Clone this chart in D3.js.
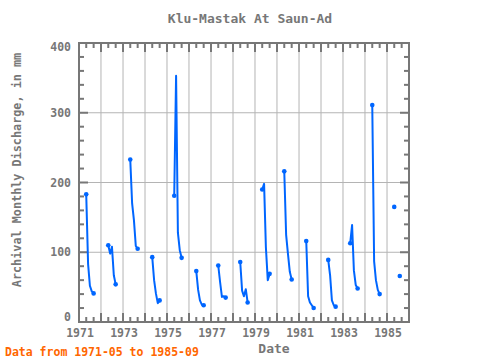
<!DOCTYPE html>
<html><head><meta charset="utf-8">
<script src="https://cdn.jsdelivr.net/npm/d3@7"></script>
<style>body{margin:0;background:#fff}svg{display:block}</style>
</head><body>
<script>
const years = [1971,1972,1973,1974,1975,1976,1977,1978,1979,1980,1981,1982,1983,1984,1985];
const months = [5,6,7,8,9];
const may = [183,110,233,93,181,73,81,86,190,216,116,89,113,311,165];
const jun = [83,98,170,60,353,46,57,45,198,125,37,67,139,87,null];
const jul = [52,108,146,41,128,31,36,37,107,98,28,31,74,60,null];
const aug = [44,67,109,27,103,25,37,47,60,72,24,24,53,46,66];
const sep = [41,54,105,31,92,24,35,28,69,61,20,22,48,40,null];
const yTicks = [0,100,200,300,400];
const xLabels = [1971,1973,1975,1977,1979,1981,1983,1985];

const W=480,H=360, L=79,R=409,T=43,B=322;
const gray="#777", grid="#b4b4b4", blue="#0066ff";
const svg=d3.select("body").append("svg").attr("width",W).attr("height",H);
const x=d3.scaleTime().domain([new Date(1971,0,1),new Date(1986,0,1)]).range([L,R]);
const y=d3.scaleLinear().domain([0,400]).range([B,T]);

// data table
const cols=[may,jun,jul,aug,sep];
const pts=[];
years.forEach((yr,i)=>{
  months.forEach((m,j)=>pts.push({d:new Date(yr,m-1,1),v:cols[j][i]}));
  pts.push({d:new Date(yr,11,1),v:null});
});

// grid
const g=svg.append("g");
d3.range(1972,1986).forEach(yr=>{
  g.append("line").attr("x1",x(new Date(yr,0,1))).attr("x2",x(new Date(yr,0,1)))
   .attr("y1",T).attr("y2",B).attr("stroke",grid).attr("stroke-width",1);
});
[100,200,300].forEach(v=>{
  g.append("line").attr("x1",L).attr("x2",R).attr("y1",y(v)).attr("y2",y(v))
   .attr("stroke",grid).attr("stroke-width",1);
});

// ticks
const tk=svg.append("g").attr("stroke",gray).attr("stroke-width",2);
d3.range(1971,1986).forEach(yr=>{
  [0,4,8].forEach(mo=>{
    const xx=x(new Date(yr,mo,1)); const len=mo===0?9:5;
    tk.append("line").attr("x1",xx).attr("x2",xx).attr("y1",T).attr("y2",T+len);
    tk.append("line").attr("x1",xx).attr("x2",xx).attr("y1",B).attr("y2",B-len);
  });
});
d3.range(0,401,20).forEach(v=>{
  const len=v%100===0?9:5;
  tk.append("line").attr("x1",L).attr("x2",L+len).attr("y1",y(v)).attr("y2",y(v));
  tk.append("line").attr("x1",R).attr("x2",R-len).attr("y1",y(v)).attr("y2",y(v));
});
// frame
svg.append("rect").attr("x",L).attr("y",T).attr("width",R-L).attr("height",B-T)
  .attr("fill","none").attr("stroke",gray).attr("stroke-width",2);

// line
const line=d3.line().defined(d=>d.v!=null).x(d=>x(d.d)).y(d=>y(d.v));
svg.append("path").datum(pts).attr("d",line).attr("fill","none")
  .attr("stroke",blue).attr("stroke-width",2).attr("stroke-linejoin","round");
const ends=pts.filter((p,i)=>p.v!=null&&(i===0||pts[i-1].v==null||i===pts.length-1||pts[i+1].v==null));
svg.selectAll("circle.m").data(ends).enter().append("circle")
  .attr("cx",d=>x(d.d)).attr("cy",d=>y(d.v)).attr("r",2.3).attr("fill",blue);

// labels
const font="'DejaVu Sans Mono', monospace";
svg.append("text").attr("x",250).attr("y",23).attr("text-anchor","middle")
  .attr("font-family",font).attr("font-weight","bold").attr("font-size",13).attr("fill","#777").text("Klu-Mastak At Saun-Ad");
yTicks.forEach((v,i)=>{
  const dy=v===400?4:(v===0?-5:0);
  svg.append("text").attr("x",71).attr("y",y(v)+dy+4).attr("text-anchor","end")
   .attr("font-family",font).attr("font-weight","bold").attr("font-size",11.5).attr("fill",gray).text(v);
});
xLabels.forEach(yr=>{
  svg.append("text").attr("x",x(new Date(yr,0,1))+1).attr("y",337).attr("text-anchor","middle")
   .attr("font-family",font).attr("font-weight","bold").attr("font-size",11.5).attr("fill",gray).text(yr);
});
svg.append("text").attr("x",274).attr("y",353).attr("text-anchor","middle")
  .attr("font-family",font).attr("font-weight","bold").attr("font-size",13).attr("fill",gray).text("Date");
svg.append("text").attr("transform","translate(21,170) rotate(-90)").attr("text-anchor","middle")
  .attr("font-family",font).attr("font-weight","bold").attr("font-size",11.8).attr("fill",gray).text("Archival Monthly Discharge, in mm");
svg.append("text").attr("x",5).attr("y",356)
  .attr("font-family",font).attr("font-weight","bold").attr("font-size",11.5).attr("fill","#ff6600").text("Data from 1971-05 to 1985-09");
</script>
</body></html>
